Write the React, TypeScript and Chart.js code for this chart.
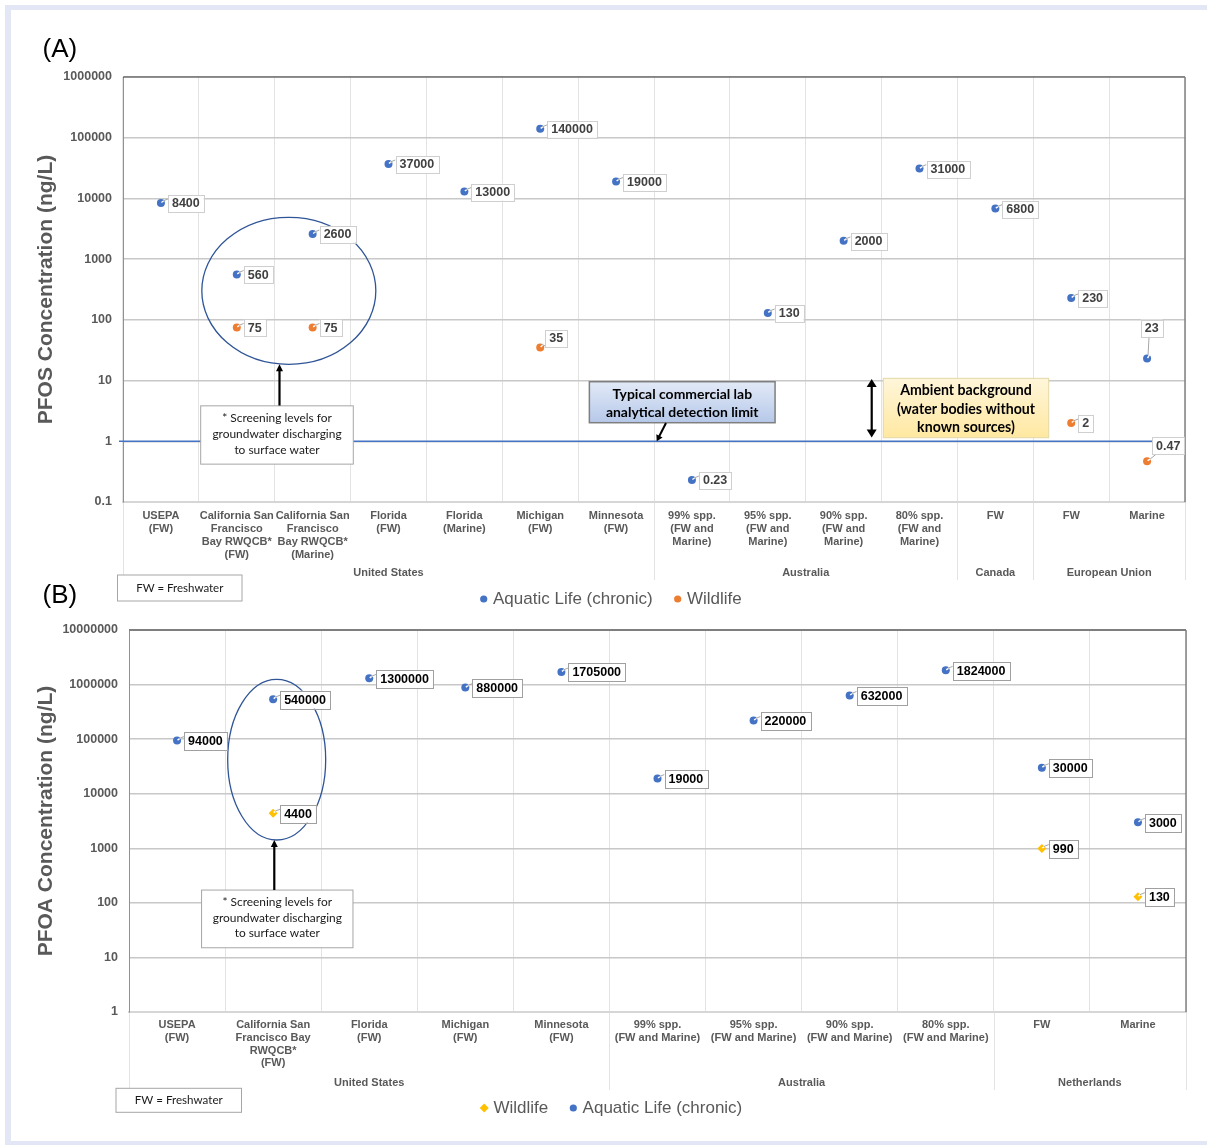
import React, { useEffect, useRef } from 'react';
import { Chart, registerables } from 'chart.js';

Chart.register(...registerables);

const FONT = '"Liberation Sans", Arial, sans-serif';
const CAL = 'Lato, "Liberation Sans", sans-serif';

const BLUE = '#4472c4';
const ORANGE = '#ed7d31';
const GOLD = '#ffc000';

// ---------- Panel A (PFOS) ----------
const categoriesA = [
  ['USEPA', '(FW)'],
  ['California San', 'Francisco', 'Bay RWQCB*', '(FW)'],
  ['California San', 'Francisco', 'Bay RWQCB*', '(Marine)'],
  ['Florida', '(FW)'],
  ['Florida', '(Marine)'],
  ['Michigan', '(FW)'],
  ['Minnesota', '(FW)'],
  ['99% spp.', '(FW and', 'Marine)'],
  ['95% spp.', '(FW and', 'Marine)'],
  ['90% spp.', '(FW and', 'Marine)'],
  ['80% spp.', '(FW and', 'Marine)'],
  ['FW'],
  ['FW'],
  ['Marine'],
];
const aquaticA = [8400, 560, 2600, 37000, 13000, 140000, 19000, 0.23, 130, 2000, 31000, 6800, 230, 23];
const wildlifeA = [null, 75, 75, null, null, 35, null, null, null, null, null, null, 2, 0.47];
const yTicksA = [0.1, 1, 10, 100, 1000, 10000, 100000, 1000000];
const groupsA = [
  { label: 'United States', from: 0, to: 6 },
  { label: 'Australia', from: 7, to: 10 },
  { label: 'Canada', from: 11, to: 11 },
  { label: 'European Union', from: 12, to: 13 },
];

// ---------- Panel B (PFOA) ----------
const categoriesB = [
  ['USEPA', '(FW)'],
  ['California San', 'Francisco Bay', 'RWQCB*', '(FW)'],
  ['Florida', '(FW)'],
  ['Michigan', '(FW)'],
  ['Minnesota', '(FW)'],
  ['99% spp.', '(FW and Marine)'],
  ['95% spp.', '(FW and Marine)'],
  ['90% spp.', '(FW and Marine)'],
  ['80% spp.', '(FW and Marine)'],
  ['FW'],
  ['Marine'],
];
const wildlifeB = [null, 4400, null, null, null, null, null, null, null, 990, 130];
const aquaticB = [94000, 540000, 1300000, 880000, 1705000, 19000, 220000, 632000, 1824000, 30000, 3000];
const yTicksB = [1, 10, 100, 1000, 10000, 100000, 1000000, 10000000];
const groupsB = [
  { label: 'United States', from: 0, to: 4 },
  { label: 'Australia', from: 5, to: 8 },
  { label: 'Netherlands', from: 9, to: 10 },
];

const screeningText = ['* Screening levels for', 'groundwater discharging', 'to surface water'];

// ---------- drawing helpers ----------
function drawBox(ctx: CanvasRenderingContext2D, x: number, y: number, b: any) {
  const { w, h } = b;
  ctx.save();
  if (Array.isArray(b.fill)) {
    const g = ctx.createLinearGradient(0, y, 0, y + h);
    g.addColorStop(0, b.fill[0]);
    g.addColorStop(1, b.fill[1]);
    ctx.fillStyle = g;
  } else ctx.fillStyle = b.fill;
  ctx.fillRect(x, y, w, h);
  ctx.strokeStyle = b.stroke;
  ctx.lineWidth = b.sw;
  ctx.strokeRect(x, y, w, h);
  ctx.font = `${b.weight} 100px ${CAL}`;
  const maxW = Math.max(...b.lines.map((s: string) => ctx.measureText(s).width));
  const size = (100 * b.fit) / maxW;
  ctx.font = `${b.weight} ${size}px ${CAL}`;
  ctx.fillStyle = b.color;
  ctx.textAlign = 'center';
  ctx.textBaseline = 'middle';
  const n = b.lines.length;
  b.lines.forEach((s: string, i: number) => {
    ctx.fillText(s, x + w / 2, y + h / 2 + (i - (n - 1) / 2) * b.gap + (b.dy || 0));
  });
  ctx.restore();
}

function head(ctx: CanvasRenderingContext2D, tx: number, ty: number, fx: number, fy: number, len: number, hw: number) {
  const a = Math.atan2(ty - fy, tx - fx);
  ctx.beginPath();
  ctx.moveTo(tx, ty);
  ctx.lineTo(tx - len * Math.cos(a) + hw * Math.sin(a), ty - len * Math.sin(a) - hw * Math.cos(a));
  ctx.lineTo(tx - len * Math.cos(a) - hw * Math.sin(a), ty - len * Math.sin(a) + hw * Math.cos(a));
  ctx.closePath();
  ctx.fill();
}

function drawArrow(ctx: CanvasRenderingContext2D, x1: number, y1: number, x2: number, y2: number, a: any) {
  ctx.save();
  ctx.strokeStyle = '#000';
  ctx.fillStyle = '#000';
  ctx.lineWidth = a.width;
  const len = a.len, hw = a.hw;
  const ang = Math.atan2(y2 - y1, x2 - x1);
  const sx = a.both ? x1 + (len - 1) * Math.cos(ang) : x1;
  const sy = a.both ? y1 + (len - 1) * Math.sin(ang) : y1;
  const ex = x2 - (len - 1) * Math.cos(ang);
  const ey = y2 - (len - 1) * Math.sin(ang);
  ctx.beginPath();
  ctx.moveTo(sx, sy);
  ctx.lineTo(ex, ey);
  ctx.stroke();
  head(ctx, x2, y2, x1, y1, len, hw);
  if (a.both) head(ctx, x1, y1, x2, y2, len, hw);
  ctx.restore();
}

function drawDataLabels(chart: any, cfg: any) {
  const ctx: CanvasRenderingContext2D = chart.ctx;
  ctx.save();
  ctx.font = `bold 12.5px ${FONT}`;
  chart.data.datasets.forEach((ds: any, di: number) => {
    const meta = chart.getDatasetMeta(di);
    meta.data.forEach((pt: any, i: number) => {
      const v = ds.data[i];
      if (v == null) return;
      const px = pt.x, py = pt.y;
      const text = String(v);
      const tw = ctx.measureText(text).width;
      const w = tw + 8, h = cfg.h;
      const place = cfg.place[`${di}:${i}`] || 'right';
      let bx, by, lx1, ly1, lx2, ly2;
      if (place === 'above') {
        bx = px - 6.3; by = py - 39; lx1 = px + 1; ly1 = py - 4; lx2 = px + 2; ly2 = by + h;
      } else if (place === 'aboveRight') {
        bx = px + 5; by = py - h - 0.5; lx1 = px + 2; ly1 = py - 3; lx2 = bx + 2; ly2 = by + h;
      } else if (place === 'upRight') {
        bx = px + 5; by = py - 24; lx1 = px + 3; ly1 = py - 2; lx2 = bx + 4; ly2 = by + h;
      } else {
        bx = px + 7; by = py - h / 2 + 0.5; lx1 = px + 2; ly1 = py - 2; lx2 = bx; ly2 = py - 4;
      }
      // notch in the marker
      ctx.strokeStyle = '#ffffff';
      ctx.lineWidth = 1.4;
      ctx.beginPath();
      ctx.moveTo(px + 0.5, py - 0.5);
      ctx.lineTo(lx1 + 2, ly1 - 1);
      ctx.stroke();
      // leader
      ctx.strokeStyle = '#a6a6a6';
      ctx.lineWidth = 1;
      ctx.beginPath();
      ctx.moveTo(lx1, ly1);
      ctx.lineTo(lx2, ly2);
      ctx.stroke();
      ctx.fillStyle = '#ffffff';
      ctx.fillRect(bx, by, w, h);
      ctx.strokeStyle = cfg.stroke;
      ctx.strokeRect(Math.round(bx) + 0.5, Math.round(by) + 0.5, Math.round(w), Math.round(h));
      ctx.fillStyle = cfg.color;
      ctx.textAlign = 'left';
      ctx.textBaseline = 'middle';
      ctx.fillText(text, bx + 4, by + h / 2 + 0.5);
    });
  });
  ctx.restore();
}

function drawLegend(chart: any, lg: any) {
  const ctx: CanvasRenderingContext2D = chart.ctx;
  ctx.save();
  ctx.font = `17px ${FONT}`;
  const items = chart.data.datasets.map((ds: any) => ({
    text: ds.label,
    color: ds.pointBackgroundColor,
    style: ds.pointStyle,
    tw: ctx.measureText(ds.label).width,
  }));
  const gap = 21.5, mk = 12.8;
  const total = items.reduce((s: number, it: any) => s + mk + it.tw, 0) + gap * (items.length - 1);
  let x = lg.cx - total / 2;
  items.forEach((it: any) => {
    ctx.fillStyle = it.color;
    const cx = x + 3.5, cy = lg.y;
    ctx.beginPath();
    if (it.style === 'rectRot') {
      ctx.moveTo(cx, cy - 4.5); ctx.lineTo(cx + 4.5, cy); ctx.lineTo(cx, cy + 4.5); ctx.lineTo(cx - 4.5, cy);
      ctx.closePath();
    } else {
      ctx.arc(cx, cy, 3.6, 0, Math.PI * 2);
    }
    ctx.fill();
    ctx.fillStyle = '#595959';
    ctx.textAlign = 'left';
    ctx.textBaseline = 'middle';
    ctx.fillText(it.text, x + mk, cy + 0.5);
    x += mk + it.tw + gap;
  });
  ctx.restore();
}

function decorPlugin(d: any) {
  return {
    id: 'decor',
    afterDraw(chart: any) {
      const ctx: CanvasRenderingContext2D = chart.ctx;
      const xs = chart.scales.x, ys = chart.scales.y;
      const ca = chart.chartArea;
      const X = (i: number) => xs.getPixelForValue(i);
      const Y = (v: number) => ys.getPixelForValue(v);
      ctx.save();
      // frame top & right
      ctx.strokeStyle = d.top.color;
      ctx.lineWidth = d.top.width;
      ctx.beginPath();
      ctx.moveTo(ca.left, ca.top);
      ctx.lineTo(ca.right, ca.top);
      ctx.stroke();
      ctx.strokeStyle = d.right.color;
      ctx.lineWidth = d.right.width;
      ctx.beginPath();
      ctx.moveTo(ca.right, ca.top);
      ctx.lineTo(ca.right, ca.bottom);
      ctx.stroke();
      // group separators and labels
      ctx.strokeStyle = '#e3e3e3';
      ctx.lineWidth = 1;
      const bounds: number[] = [];
      d.groups.forEach((g: any) => bounds.push(X(g.from - 0.5)));
      bounds.push(X(d.groups[d.groups.length - 1].to + 0.5));
      bounds.forEach((bx) => {
        ctx.beginPath();
        ctx.moveTo(Math.round(bx) + 0.5, ca.bottom + 1);
        ctx.lineTo(Math.round(bx) + 0.5, ca.bottom + d.sepLen);
        ctx.stroke();
      });
      ctx.font = `bold 11px ${FONT}`;
      ctx.fillStyle = '#595959';
      ctx.textAlign = 'center';
      ctx.textBaseline = 'middle';
      d.groups.forEach((g: any) => {
        ctx.fillText(g.label, (X(g.from - 0.5) + X(g.to + 0.5)) / 2, ca.bottom + d.groupY);
      });
      // reference line
      if (d.refLine) {
        ctx.strokeStyle = d.refLine.color;
        ctx.lineWidth = d.refLine.width;
        ctx.beginPath();
        ctx.moveTo(X(d.refLine.x1), Y(d.refLine.v));
        ctx.lineTo(X(d.refLine.x2), Y(d.refLine.v));
        ctx.stroke();
      }
      // ellipses
      d.ellipses.forEach((e: any) => {
        ctx.strokeStyle = '#2f5597';
        ctx.lineWidth = 1.3;
        ctx.beginPath();
        ctx.ellipse(X(e.xi), Y(e.v), e.rx, e.ry, 0, 0, Math.PI * 2);
        ctx.stroke();
      });
      ctx.restore();
      // boxes
      d.boxes.forEach((b: any) => {
        drawBox(ctx, X(b.xi) - b.w / 2, Y(b.v) - b.h / 2, b);
      });
      d.pixelBoxes.forEach((b: any) => drawBox(ctx, b.x, b.y, b));
      // arrows
      d.arrows.forEach((a: any) => drawArrow(ctx, X(a.x1), Y(a.v1), X(a.x2), Y(a.v2), a));
      // data labels
      drawDataLabels(chart, d.labels);
      // legend
      drawLegend(chart, d.legend);
      // panel letter
      ctx.save();
      ctx.font = `26px ${FONT}`;
      ctx.fillStyle = '#000';
      ctx.textAlign = 'left';
      ctx.textBaseline = 'alphabetic';
      ctx.fillText(d.letter.text, d.letter.x, d.letter.y);
      ctx.restore();
    },
  };
}

function buildChart(canvas: HTMLCanvasElement, spec: any) {
  return new Chart(canvas, {
    type: 'line',
    data: {
      labels: spec.labels,
      datasets: spec.datasets.map((d: any) => ({
        label: d.label,
        data: d.data,
        showLine: false,
        pointStyle: d.style,
        pointRadius: d.radius,
        pointHoverRadius: d.radius,
        pointBackgroundColor: d.color,
        pointBorderColor: d.color,
        pointBorderWidth: 0,
        borderColor: d.color,
        backgroundColor: d.color,
      })),
    },
    options: {
      animation: false,
      responsive: false,
      devicePixelRatio: 1,
      events: [],
      layout: { padding: spec.padding },
      plugins: { legend: { display: false }, tooltip: { enabled: false } },
      scales: {
        x: {
          type: 'category',
          offset: true,
          grid: { offset: true, color: '#e3e3e3', lineWidth: 1, drawTicks: false },
          border: { display: true, color: '#d6d6d6', width: 2 },
          ticks: {
            autoSkip: false,
            maxRotation: 0,
            minRotation: 0,
            padding: 7,
            color: '#595959',
            font: { family: FONT, size: 11, weight: 'bold', lineHeight: spec.xLine },
          },
          afterFit: (s: any) => {
            s.height = spec.xHeight;
          },
        },
        y: {
          type: 'logarithmic',
          min: spec.yTicks[0],
          max: spec.yTicks[spec.yTicks.length - 1],
          afterBuildTicks: (s: any) => {
            s.ticks = spec.yTicks.map((v: number) => ({ value: v }));
          },
          grid: { color: '#c8c8c8', lineWidth: 1.5, drawTicks: false },
          border: { display: true, color: '#7393d3', width: 1 },
          ticks: {
            padding: 11,
            color: '#595959',
            font: { family: FONT, size: 12.5, weight: 'bold' },
            callback: (v: any) => String(v),
          },
          title: {
            display: true,
            text: spec.yTitle,
            color: '#595959',
            font: { family: FONT, size: 21, weight: 'bold' },
            padding: { top: 34, bottom: 0 },
          },
          afterFit: (s: any) => {
            s.width = spec.yWidth;
          },
        },
      },
    } as any,
    plugins: [decorPlugin(spec.decor)],
  });
}

const specA = {
  labels: categoriesA,
  datasets: [
    { label: 'Aquatic Life (chronic)', data: aquaticA, color: BLUE, style: 'circle', radius: 4 },
    { label: 'Wildlife', data: wildlifeA, color: ORANGE, style: 'circle', radius: 4 },
  ],
  yTicks: yTicksA,
  yTitle: 'PFOS Concentration (ng/L)',
  padding: { left: 0, right: 22, top: 77, bottom: 0 },
  yWidth: 123,
  xHeight: 113,
  xLine: '13px',
  decor: {
    top: { color: '#404040', width: 1.2 },
    right: { color: '#808080', width: 1.5 },
    groups: groupsA,
    groupY: 71.3,
    sepLen: 78,
    refLine: { v: 1, x1: -0.553, x2: 13.131, color: BLUE, width: 1.6 },
    ellipses: [{ xi: 1.686, v: 301, rx: 87, ry: 73.5 }],
    arrows: [
      { x1: 1.563, v1: 3.88, x2: 1.563, v2: 18.5, both: false, width: 2.2, len: 7, hw: 3.5 },
      { x1: 6.658, v1: 2.0, x2: 6.536, v2: 1, both: false, width: 2, len: 6, hw: 3.5 },
      { x1: 9.37, v1: 10.6, x2: 9.37, v2: 1.15, both: true, width: 2.2, len: 8, hw: 5 },
    ],
    boxes: [
      { xi: 1.53, v: 1.27, w: 152.6, h: 58.3, lines: screeningText, weight: 'normal', fit: 129.3, gap: 16, fill: '#ffffff', stroke: '#a6a6a6', sw: 1, color: '#1a1a1a', dy: -1 },
      { xi: 6.872, v: 4.4, w: 185.7, h: 41, lines: ['Typical commercial lab', 'analytical detection limit'], weight: 'bold', fit: 152.7, gap: 18.3, fill: ['#e2eaf7', '#b6c8e9'], stroke: '#7f7f7f', sw: 1.5, color: '#000000', dy: 1 },
      { xi: 10.613, v: 3.53, w: 165.4, h: 59.4, lines: ['Ambient background', '(water bodies without', 'known sources)'], weight: 'bold', fit: 138.3, gap: 18.3, fill: ['#fff6da', '#ffe8a1'], stroke: '#e3d9a8', sw: 1, color: '#000000', dy: 1 },
    ],
    pixelBoxes: [
      { x: 117.5, y: 575, w: 124.5, h: 26, lines: ['FW = Freshwater'], weight: 'normal', fit: 87.3, gap: 0, fill: '#ffffff', stroke: '#a6a6a6', sw: 1, color: '#1a1a1a', dy: 0 },
    ],
    labels: { place: { '0:13': 'above', '1:5': 'aboveRight', '1:13': 'upRight' }, h: 17, stroke: '#cfcfcf', color: '#404040' },
    legend: { cx: 611, y: 599 },
    letter: { text: '(A)', x: 42.5, y: 56.5 },
  },
};

const specB = {
  labels: categoriesB,
  datasets: [
    { label: 'Wildlife', data: wildlifeB, color: GOLD, style: 'rectRot', radius: 4.5 },
    { label: 'Aquatic Life (chronic)', data: aquaticB, color: BLUE, style: 'circle', radius: 4 },
  ],
  yTicks: yTicksB,
  yTitle: 'PFOA Concentration (ng/L)',
  padding: { left: 0, right: 21, top: 55, bottom: 0 },
  yWidth: 129,
  xHeight: 133,
  xLine: '12.7px',
  decor: {
    top: { color: '#7f7f7f', width: 2 },
    right: { color: '#808080', width: 1.5 },
    groups: groupsB,
    groupY: 71,
    sepLen: 78,
    refLine: null,
    ellipses: [{ xi: 1.037, v: 42000, rx: 49, ry: 80.3 }],
    arrows: [{ x1: 1.012, v1: 172, x2: 1.012, v2: 1419, both: false, width: 2.2, len: 7, hw: 3.5 }],
    boxes: [
      { xi: 1.043, v: 50.8, w: 151.4, h: 57.7, lines: screeningText, weight: 'normal', fit: 129.3, gap: 15.7, fill: '#ffffff', stroke: '#a6a6a6', sw: 1, color: '#1a1a1a', dy: -1 },
    ],
    pixelBoxes: [
      { x: 116, y: 513.3, w: 125.5, h: 24, lines: ['FW = Freshwater'], weight: 'normal', fit: 88, gap: 0, fill: '#ffffff', stroke: '#a6a6a6', sw: 1, color: '#1a1a1a', dy: 0 },
    ],
    labels: { place: {}, h: 18, stroke: '#a0a0a0', color: '#000000' },
    legend: { cx: 611.5, y: 533 },
    letter: { text: '(B)', x: 42.5, y: 27.8 },
  },
};

function ChartCanvas({ spec, top, height }: { spec: any; top: number; height: number }) {
  const ref = useRef<HTMLCanvasElement>(null);
  useEffect(() => {
    const chart = buildChart(ref.current as HTMLCanvasElement, spec);
    return () => chart.destroy();
  }, [spec]);
  return (
    <canvas
      ref={ref}
      width={1207}
      height={height}
      style={{ position: 'absolute', left: 0, top, width: 1207, height }}
    />
  );
}

export default function App() {
  return (
    <div style={{ position: 'absolute', left: 0, top: 0, width: 1207, height: 1145, background: '#ffffff', overflow: 'hidden' }}>
      <div
        style={{
          position: 'absolute',
          left: 5,
          top: 5,
          width: 1202,
          height: 1140,
          boxSizing: 'border-box',
          borderLeft: '6px solid #e3e6f4',
          borderTop: '5px solid #e3e6f4',
          borderBottom: '4px solid #e3e6f4',
        }}
      />
      <ChartCanvas spec={specA} top={0} height={615} />
      <ChartCanvas spec={specB} top={575} height={570} />
    </div>
  );
}
